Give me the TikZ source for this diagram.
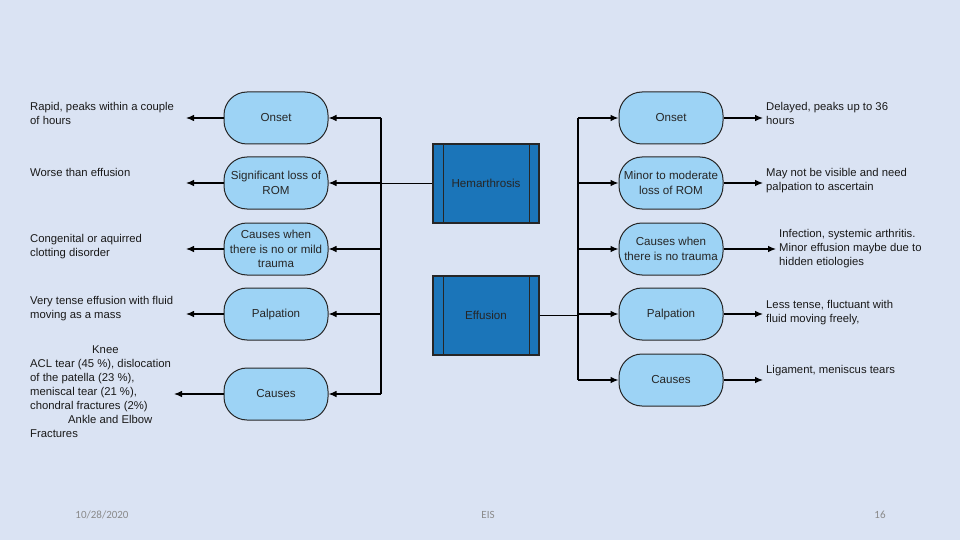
\documentclass[tikz,border=0pt]{standalone}
\usepackage{fontspec}
\setmainfont{Liberation Sans}
\newfontfamily\footfont{Carlito}
\usetikzlibrary{calc,arrows.meta}
\definecolor{bgc}{HTML}{DAE3F3}
\definecolor{pill}{HTML}{9DD3F5}
\definecolor{proc}{HTML}{1B75B9}
\definecolor{foot}{HTML}{8A8A8A}
\tikzset{
  pillbox/.style={draw=black!85, line width=1pt, fill=pill, rounded corners=23pt,
    minimum width=104pt, minimum height=52pt, align=center, inner sep=1pt,
    font=\fontsize{11.6}{14.5}\selectfont, text=black!85},
  procbox/.style={draw=black!85, line width=1.2pt, fill=proc, minimum width=106pt,
    minimum height=79pt, font=\fontsize{11.6}{13.5}\selectfont, text=black!85},
  note/.style={anchor=north west, align=left, inner sep=0pt,
    font=\fontsize{11.3}{14}\selectfont, text=black!90},
  conn/.style={draw=black, line width=1.1pt},
  arr/.style={conn, -{Latex[length=8pt,width=6.5pt]}},
  footer/.style={font=\footfont\fontsize{11}{13}\selectfont, text=foot}
}
\begin{document}
\begin{tikzpicture}[x=1pt,y=-1pt]
\fill[bgc] (0,0) rectangle (960,540);
\useasboundingbox (0,0) rectangle (960,540);

% central process boxes
\node[procbox] (hem) at (486,183.5) {Hemarthrosis};
\node[procbox] (eff) at (486,315.5) {Effusion};
\foreach \b in {hem,eff}{
  \draw[black!85, line width=0.8pt] ($(\b.north west)+(10.5,0)$) -- ($(\b.south west)+(10.5,0)$);
  \draw[black!85, line width=0.8pt] ($(\b.north east)+(-10.5,0)$) -- ($(\b.south east)+(-10.5,0)$);
}

% left pills
\node[pillbox] (l1) at (276,118) {Onset};
\node[pillbox] (l2) at (276,183) {Significant loss of\\ROM};
\node[pillbox] (l3) at (276,249) {Causes when\\there is no or mild\\trauma};
\node[pillbox] (l4) at (276,314) {Palpation};
\node[pillbox] (l5) at (276,394) {Causes};

% right pills
\node[pillbox] (r1) at (671,118) {Onset};
\node[pillbox] (r2) at (671,183) {Minor to moderate\\loss of ROM};
\node[pillbox] (r3) at (671,249) {Causes when\\there is no trauma};
\node[pillbox] (r4) at (671,314) {Palpation};
\node[pillbox] (r5) at (671,380) {Causes};

% buses
\coordinate (lb1) at (381,118);
\coordinate (lb5) at (381,394);
\coordinate (rb1) at (578,118);
\coordinate (rb5) at (578,380);
\draw[conn] (lb1) -- (lb5);
\draw[conn] (rb1) -- (rb5);
\draw[conn] (hem.west) -- (hem.west -| lb1);
\draw[conn] (eff.east) -- (eff.east -| rb1);
\foreach \i in {1,...,5}{
  \draw[arr] (l\i.east -| lb1) -- (l\i.east);
  \draw[arr] (r\i.west -| rb1) -- (r\i.west);
}

% left notes
\coordinate (ln1) at (186,118);
\coordinate (ln2) at (186,183);
\coordinate (ln3) at (186,249);
\coordinate (ln4) at (186,314);
\coordinate (ln5) at (174,394);
\foreach \i in {1,...,5}{ \draw[arr] (l\i.west) -- (ln\i); }

\node[note] (t1) at (30,102) {Rapid, peaks within a couple\\of hours};
\node[note] (t2) at (30,168) {Worse than effusion};
\node[note] (t3) at (30,234) {Congenital or aquirred\\clotting disorder};
\node[note] (t4) at (30,296) {Very tense effusion with fluid\\moving as a mass};
\node[note] (t5) at (30,346) {\hspace*{62pt}Knee\\ACL tear (45 \%), dislocation\\of the patella (23 \%),\\meniscal tear (21 \%),\\chondral fractures (2\%)\\\hspace*{38pt}Ankle and Elbow\\Fractures};

% right notes
\coordinate (rn1) at (763,118);
\coordinate (rn2) at (763,183);
\coordinate (rn3) at (776,249);
\coordinate (rn4) at (763,314);
\coordinate (rn5) at (763,380);
\foreach \i in {1,...,5}{ \draw[arr] (r\i.east) -- (rn\i); }

\node[note] (s1) at (766,102) {Delayed, peaks up to 36\\hours};
\node[note] (s2) at (766,168) {May not be visible and need\\palpation to ascertain};
\node[note] (s3) at (779,229) {Infection, systemic arthritis.\\Minor effusion maybe due to\\hidden etiologies};
\node[note] (s4) at (766,300) {Less tense, fluctuant with\\fluid moving freely,};
\node[note] (s5) at (766,365) {Ligament, meniscus tears};

% footer
\node[footer] (f1) at (102,515) {10/28/2020};
\node[footer] (f2) at (488,515) {EIS};
\node[footer] (f3) at (880,515) {16};
\end{tikzpicture}
\end{document}
